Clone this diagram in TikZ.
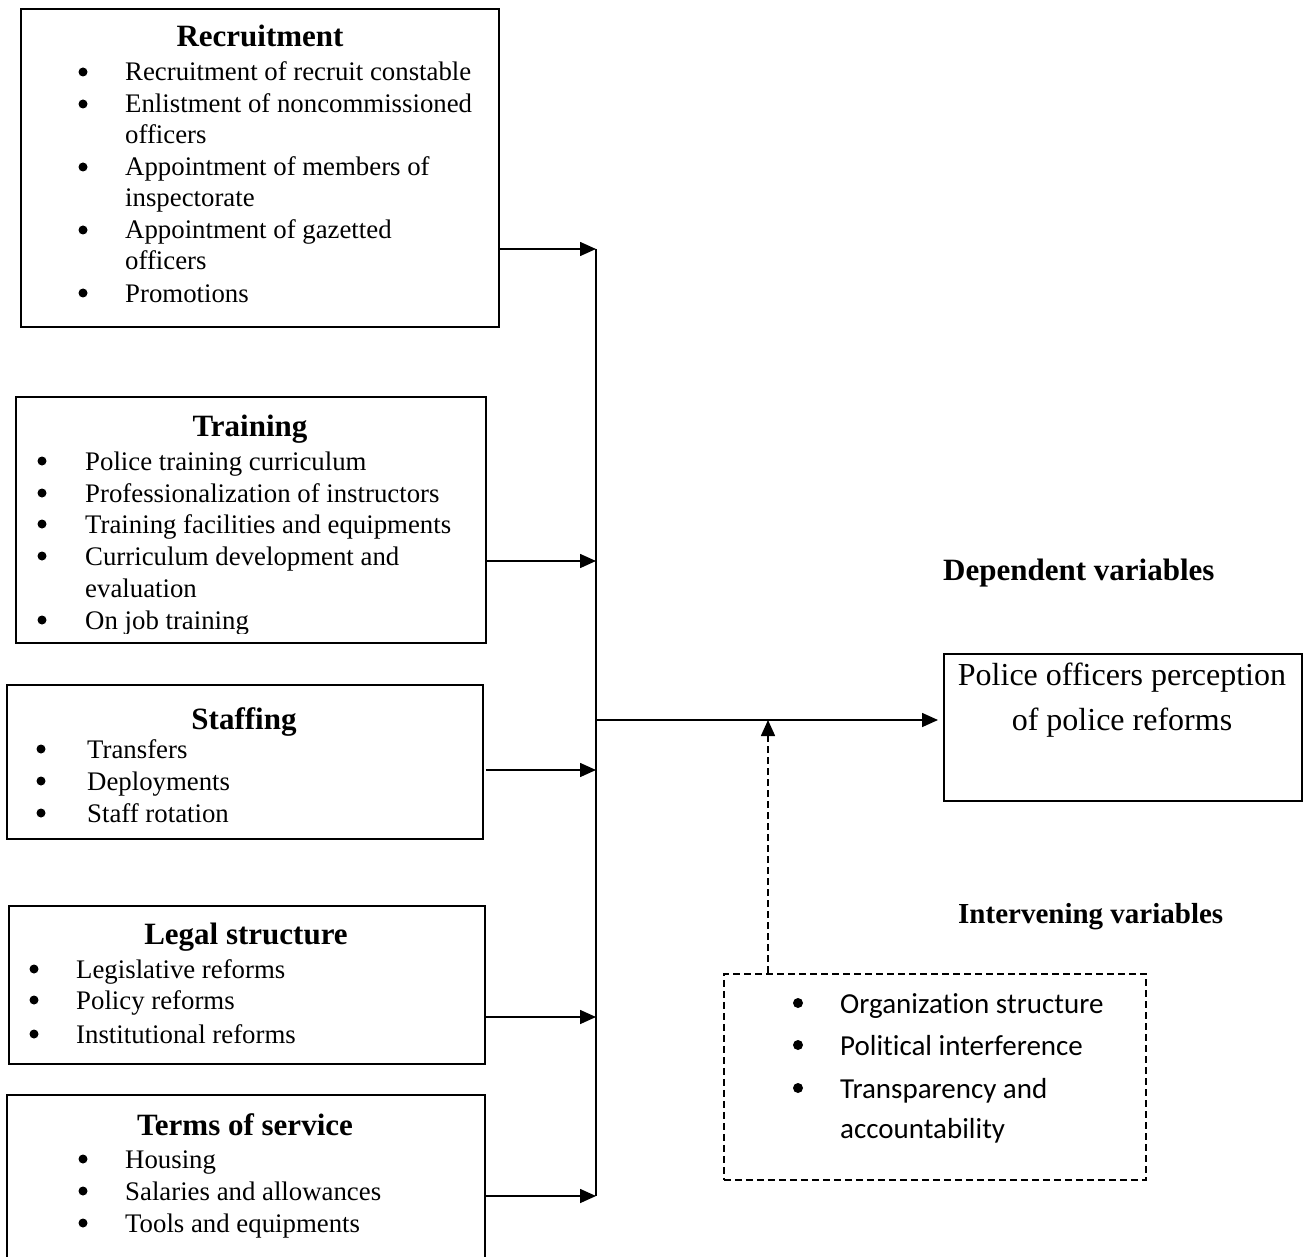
\documentclass[tikz,border=0pt]{standalone}
\usepackage{fontspec}
\setmainfont{Liberation Serif}
\newfontfamily\calib[Ligatures=NoCommon,RawFeature=-liga]{Carlito}
\usetikzlibrary{arrows.meta}
\begin{document}
\begin{tikzpicture}[x=1pt,y=-1pt,
  box/.style={draw,line width=1.8pt,anchor=north west,inner sep=0pt},
  dbox/.style={draw,line width=1.6pt,dash pattern=on 7pt off 4pt,anchor=north west,inner sep=0pt},
  itm/.style={anchor=base west,inner sep=0pt,font=\fontsize{26.8}{31}\selectfont},
  bul/.style={circle,fill,inner sep=0pt,minimum size=9pt,yshift=9pt},
  cbul/.style={circle,fill,inner sep=0pt,minimum size=10pt,yshift=10pt},
  hdr/.style={anchor=base,inner sep=0pt,font=\bfseries\fontsize{31}{36}\selectfont},
  citm/.style={anchor=base west,inner sep=0pt,font=\calib\fontsize{29}{36}\selectfont},
  dtxt/.style={anchor=base,inner sep=0pt,font=\fontsize{32}{40}\selectfont},
  conn/.style={line width=1.6pt},
  arr/.style={line width=1.6pt,-{Triangle[length=16pt,width=14pt]}},
  darr/.style={line width=1.6pt,dash pattern=on 7pt off 4pt,-{Triangle[length=16pt,width=14pt]}}]
\clip (0,0) rectangle (1309,1257);
\fill[white] (0,0) rectangle (1309,1257);

% Recruitment
\node[box,minimum width=478pt,minimum height=318pt] (rec) at (20,8) {};
\node[hdr] (rech) at (260,47) {Recruitment};
\foreach \y/\t/\b in {81/Recruitment of recruit constable/1,113/Enlistment of noncommissioned/1,144/officers/0,176/Appointment of members of/1,207/inspectorate/0,239/Appointment of gazetted/1,270/officers/0,302/Promotions/1}{
  \node[itm] (rec-\y) at (125,\y) {\t};
  \ifnum\b=1 \node[bul] (recb-\y) at (83,\y) {};\fi
}

% Training
\node[box,minimum width=470pt,minimum height=246pt] (trn) at (15,396) {};
\node[hdr] (trnh) at (250,436) {Training};
\begin{scope}
\clip (15,396) rectangle (485,633);
\foreach \y/\t/\b in {470/Police training curriculum/1,502/Professionalization of instructors/1,533/Training facilities and equipments/1,565/Curriculum development and/1,597/evaluation/0,629/On job training/1}{
  \node[itm] (trn-\y) at (85,\y) {\t};
  \ifnum\b=1 \node[bul] (trnb-\y) at (42,\y) {};\fi
}
\end{scope}

% Staffing
\node[box,minimum width=476pt,minimum height=154pt] (stf) at (6,684) {};
\node[hdr] (stfh) at (244,729) {Staffing};
\foreach \y/\t in {758/Transfers,790/Deployments,822/Staff rotation}{
  \node[itm] (stf-\y) at (87,\y) {\t};
  \node[bul] (stfb-\y) at (41,\y) {};
}

% Legal structure
\node[box,minimum width=476pt,minimum height=158pt] (leg) at (8,905) {};
\node[hdr] (legh) at (246,944) {Legal structure};
\foreach \y/\t in {978/Legislative reforms,1009/Policy reforms,1043/Institutional reforms}{
  \node[itm] (leg-\y) at (76,\y) {\t};
  \node[bul] (legb-\y) at (34,\y) {};
}

% Terms of service
\node[box,minimum width=478pt,minimum height=200pt] (tos) at (6,1094) {};
\node[hdr] (tosh) at (245,1135) {Terms of service};
\foreach \y/\t in {1168/Housing,1200/Salaries and allowances,1232/Tools and equipments}{
  \node[itm] (tos-\y) at (125,\y) {\t};
  \node[bul] (tosb-\y) at (83,\y) {};
}

% Dependent
\node[hdr,anchor=base west] (deplab) at (943,580) {Dependent variables};
\node[box,minimum width=358pt,minimum height=147pt] (dep) at (943,653) {};
\node[dtxt] (dep1) at (1122,685) {Police officers perception};
\node[dtxt] (dep2) at (1122,730) {of police reforms};

% Intervening
\node[hdr,anchor=base west,font=\bfseries\fontsize{29}{34}\selectfont] (intlab) at (958,923) {Intervening variables};
\node[dbox,minimum width=422pt,minimum height=206pt] (ivb) at (723,973) {};
\foreach \y/\t/\b in {1013/Organization structure/1,1055/Political interference/1,1098/Transparency and/1,1138/accountability/0}{
  \node[citm] (iv-\y) at (840,\y) {\t};
  \ifnum\b=1 \node[cbul] (ivbul-\y) at (798,\y) {};\fi
}

% connectors
\coordinate (j1) at (596,249);
\coordinate (j2) at (596,561);
\coordinate (j3) at (596,770);
\coordinate (j4) at (596,1017);
\coordinate (j5) at (596,1196);
\coordinate (jm) at (596,720);
\coordinate (im) at (768,720);
\draw[conn] (j1) -- (j5);
\draw[arr] (rec.east |- j1) -- (j1);
\draw[arr] ([xshift=-1pt]trn.east |- j2) -- (j2);
\draw[arr] ([xshift=2pt]stf.east |- j3) -- (j3);
\draw[arr] (leg.east |- j4) -- (j4);
\draw[arr] (tos.east |- j5) -- (j5);
\draw[arr,shorten >=5pt] (jm) -- (dep.west |- jm);
\draw[darr] (ivb.north -| im) -- (im);
\end{tikzpicture}
\end{document}
